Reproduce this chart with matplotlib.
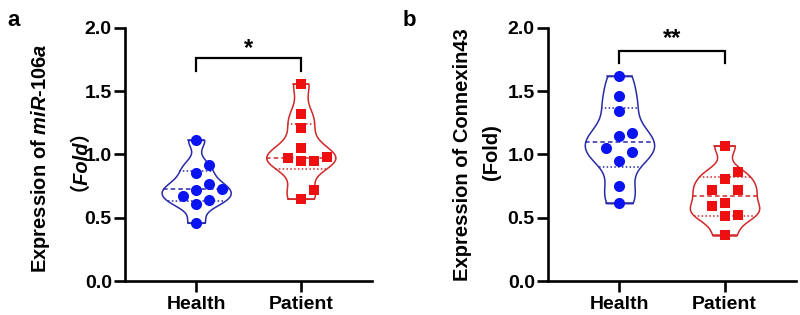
import numpy as np
import matplotlib
matplotlib.use("Agg")
import matplotlib.pyplot as plt

# Values (fold expression)
groups = ["Health", "Patient"]
mir106a_health = [1.115, 0.92, 0.85, 0.77, 0.72, 0.73, 0.67, 0.64, 0.61, 0.46]
mir106a_patient = [1.56, 1.32, 1.21, 1.05, 0.97, 0.945, 0.945, 0.98, 0.72, 0.65]
cx43_health = [1.62, 1.46, 1.34, 1.15, 1.17, 1.05, 1.02, 0.95, 0.75, 0.615]
cx43_patient = [1.07, 0.86, 0.81, 0.72, 0.72, 0.62, 0.59, 0.52, 0.51, 0.36]
yticks = [0.0, 0.5, 1.0, 1.5, 2.0]
stars = ["*", "**"]

plt.rcParams["font.family"] = ["Liberation Sans", "DejaVu Sans"]
plt.rcParams["font.weight"] = "bold"
plt.rcParams["mathtext.fontset"] = "custom"
plt.rcParams["mathtext.it"] = "Liberation Sans:italic:bold"
plt.rcParams["mathtext.rm"] = "Liberation Sans:bold"

BLUE = "#0a14f0"
BLUE_EDGE = "#2a2aa8"
RED = "#ee1010"
RED_EDGE = "#d02828"

HALF_W = 0.33      # max half-width of each violin (x units)
DOT = 0.095        # marker diameter in x units
SPREAD = 1.3 * DOT # spacing used by the swarm layout
YX = 126.5 / 105   # px per y unit / px per x unit


def kde_outline(vals, n=300, adjust=0.55):
    v = np.asarray(vals, dtype=float)
    h = adjust * v.std(ddof=1) * len(v) ** (-0.2)
    grid = np.linspace(v.min(), v.max(), n)
    dens = np.exp(-0.5 * ((grid[:, None] - v[None, :]) / h) ** 2).sum(axis=1)
    return grid, HALF_W * dens / dens.max()


def swarm(vals):
    order = np.argsort(vals)
    xs = np.zeros(len(vals))
    placed = []
    for i in order:
        y = vals[i]
        for k in [0, 1, -1, 2, -2, 3, -3]:
            x = k * SPREAD
            ok = all(np.hypot(x - px, (y - py) * YX) >= SPREAD * 0.98 for px, py in placed)
            if ok:
                break
        xs[i] = x
        placed.append((x, y))
    return xs


def draw_group(ax, pos, vals, color, edge, marker):
    vals = np.asarray(vals, dtype=float)
    grid, w = kde_outline(vals)
    ax.fill_betweenx(grid, pos - w, pos + w, facecolor="white", edgecolor=edge,
                     linewidth=1.1, zorder=2)
    ax.plot([pos - w[0], pos + w[0]], [grid[0]] * 2, color=edge, lw=1.1, zorder=2)
    ax.plot([pos - w[-1], pos + w[-1]], [grid[-1]] * 2, color=edge, lw=1.1, zorder=2)
    q1, med, q3 = np.percentile(vals, [25, 50, 75], method="weibull")
    for q, ls in [(q1, (0, (1, 1.5))), (med, (0, (3, 2))), (q3, (0, (1, 1.5)))]:
        hw = np.interp(q, grid, w)
        ax.plot([pos - hw, pos + hw], [q, q], color=edge, lw=1.1, ls=ls, zorder=3)
    xs = swarm(vals)
    ms = 64 if marker == "o" else 58
    ax.scatter(pos + xs, vals, s=ms, marker=marker, color=color, linewidths=0, zorder=4)


def style_axes(ax):
    ax.set_xlim(-0.68, 1.68)
    ax.set_ylim(0, 2.0)
    ax.set_yticks(yticks)
    ax.set_yticklabels([f"{t:.1f}" for t in yticks])
    ax.set_xticks([0, 1])
    ax.set_xticklabels(groups)
    for s in ["top", "right"]:
        ax.spines[s].set_visible(False)
    for s in ["left", "bottom"]:
        ax.spines[s].set_linewidth(1.9)
    ax.tick_params(axis="both", width=1.9, length=8, labelsize=14)
    ax.tick_params(axis="y", pad=1.5)
    ax.tick_params(axis="x", pad=3)
    for lab in ax.get_xticklabels() + ax.get_yticklabels():
        lab.set_fontweight("bold")


def bracket(ax, y_top, y_end, text, ty):
    ax.plot([0, 0, 1, 1], [y_end, y_top, y_top, y_end], color="black", lw=1.6,
            solid_joinstyle="miter", clip_on=False)
    ax.text(0.5, ty, text, ha="center", va="center", fontsize=17, fontweight="bold")


fig = plt.figure(figsize=(8, 3.15), dpi=100)
ax1 = fig.add_axes([125 / 800, 34 / 315, 247 / 800, 253 / 315])
ax2 = fig.add_axes([548 / 800, 34 / 315, 248 / 800, 253 / 315])

draw_group(ax1, 0, mir106a_health, BLUE, BLUE_EDGE, "o")
draw_group(ax1, 1, mir106a_patient, RED, RED_EDGE, "s")
draw_group(ax2, 0, cx43_health, BLUE, BLUE_EDGE, "o")
draw_group(ax2, 1, cx43_patient, RED, RED_EDGE, "s")

for ax in (ax1, ax2):
    style_axes(ax)

bracket(ax1, 1.76, 1.66, stars[0], 1.84)
bracket(ax2, 1.82, 1.72, stars[1], 1.92)

# y labels
fig.text(41 / 800, 1 - 158 / 315, r"Expression of $\mathit{miR}$-$\mathit{106a}$",
         rotation=90, ha="center", va="center", fontsize=14.5, fontweight="bold")
fig.text(69 / 800, 1 - 150 / 315, "（Fold）", rotation=90, ha="center", va="center",
         fontsize=14.5, fontweight="bold", style="italic",
         family=["Liberation Sans", "Noto Sans CJK SC"])
fig.text(463 / 800, 1 - 155 / 315, "Expression of Connexin43", rotation=90,
         ha="center", va="center", fontsize=14.5, fontweight="bold")
fig.text(491 / 800, 1 - 152 / 315, "(Fold)", rotation=90, ha="center", va="center",
         fontsize=14.5, fontweight="bold")

# panel letters
fig.text(7 / 800, 1 - 20 / 315, "a", ha="left", va="center", fontsize=16, fontweight="bold")
fig.text(403 / 800, 1 - 20 / 315, "b", ha="left", va="center", fontsize=16, fontweight="bold")

fig.savefig("out.png", dpi=100)
